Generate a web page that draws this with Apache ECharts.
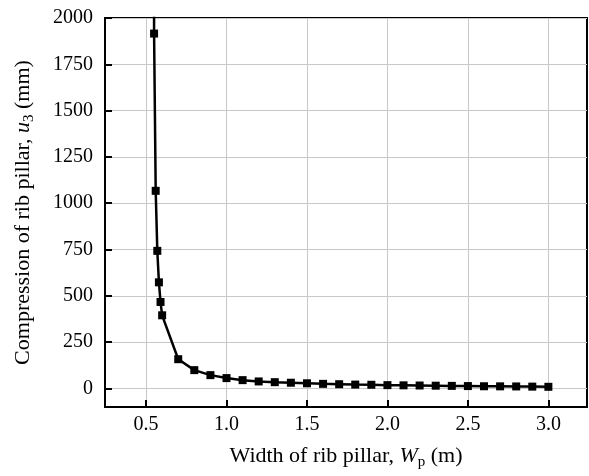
<!DOCTYPE html>
<html>
<head>
<meta charset="utf-8">
<script src="https://cdn.jsdelivr.net/npm/echarts@6/dist/echarts.min.js"></script>
<style>html,body{margin:0;padding:0;background:#fff}#c{width:589px;height:476px}</style>
</head>
<body>
<div id="c"></div>
<script>
var widths = [0.54, 0.55, 0.56, 0.57, 0.58, 0.59, 0.60, 0.7, 0.8, 0.9, 1.0, 1.1, 1.2, 1.3, 1.4, 1.5, 1.6, 1.7, 1.8, 1.9, 2.0, 2.1, 2.2, 2.3, 2.4, 2.5, 2.6, 2.7, 2.8, 2.9, 3.0];
var compression = [9500, 1916, 1067, 743, 573, 467, 395, 158, 99, 72, 56, 45, 38, 34, 31, 28, 25, 23, 21, 20, 18, 17, 16, 15, 14, 13, 12, 11.5, 11, 10, 9];
var xTicks = [0.5, 1.0, 1.5, 2.0, 2.5, 3.0];
var yTicks = [0, 250, 500, 750, 1000, 1250, 1500, 1750, 2000];

var data = widths.map(function (w, i) { return [w, compression[i]]; });
var font = 'Liberation Serif';
var chart = echarts.init(document.getElementById('c'), null, {renderer: 'canvas'});
chart.setOption({
  animation: false,
  backgroundColor: '#fff',
  grid: {left: 105, top: 18, right: 2, bottom: 69, show: true, borderColor: '#000', borderWidth: 2, backgroundColor: 'transparent'},
  xAxis: {
    type: 'value', min: 0.245, max: 3.24,
    axisLine: {show: true, onZero: false, lineStyle: {color: '#000', width: 2}},
    axisTick: {show: true, inside: true, length: 7, lineStyle: {color: '#000', width: 2},
      customValues: xTicks},
    axisLabel: {fontFamily: font, fontSize: 20, color: '#000', margin: 8,
      customValues: xTicks,
      formatter: function (v) { return v.toFixed(1); }},
    splitLine: {show: true, lineStyle: {color: '#c8c8c8', width: 1}},
    name: '{n|Width of rib pillar, }{i|W}{s|p}{n| (m)}',
    nameLocation: 'middle', nameGap: 36,
    nameTextStyle: {rich: {
      n: {fontFamily: font, fontSize: 22, color: '#000'},
      i: {fontFamily: font, fontSize: 22, fontStyle: 'italic', color: '#000'},
      s: {fontFamily: font, fontSize: 15, color: '#000', verticalAlign: 'bottom', padding: [12, 0, 0, 0]}
    }}
  },
  yAxis: {
    type: 'value', min: -100, max: 2000,
    axisLine: {show: true, onZero: false, lineStyle: {color: '#000', width: 2}},
    axisTick: {show: true, inside: true, length: 7, lineStyle: {color: '#000', width: 2},
      customValues: yTicks},
    axisLabel: {fontFamily: font, fontSize: 20, color: '#000', margin: 12,
      customValues: yTicks,
      formatter: function (v) { return String(v); }},
    splitLine: {show: true, lineStyle: {color: '#c8c8c8', width: 1}},
    name: '{n|Compression of rib pillar, }{i|u}{s|3}{n| (mm)}',
    nameLocation: 'middle', nameGap: 68, nameRotate: 90,
    nameTextStyle: {rich: {
      n: {fontFamily: font, fontSize: 22, color: '#000'},
      i: {fontFamily: font, fontSize: 22, fontStyle: 'italic', color: '#000'},
      s: {fontFamily: font, fontSize: 15, color: '#000', verticalAlign: 'bottom', padding: [12, 0, 0, 0]}
    }}
  },
  series: [{
    type: 'line', data: data, clip: true,
    symbol: 'rect', symbolSize: 8,
    lineStyle: {color: '#000', width: 2.5},
    itemStyle: {color: '#000'}
  }]
});
</script>
</body>
</html>
